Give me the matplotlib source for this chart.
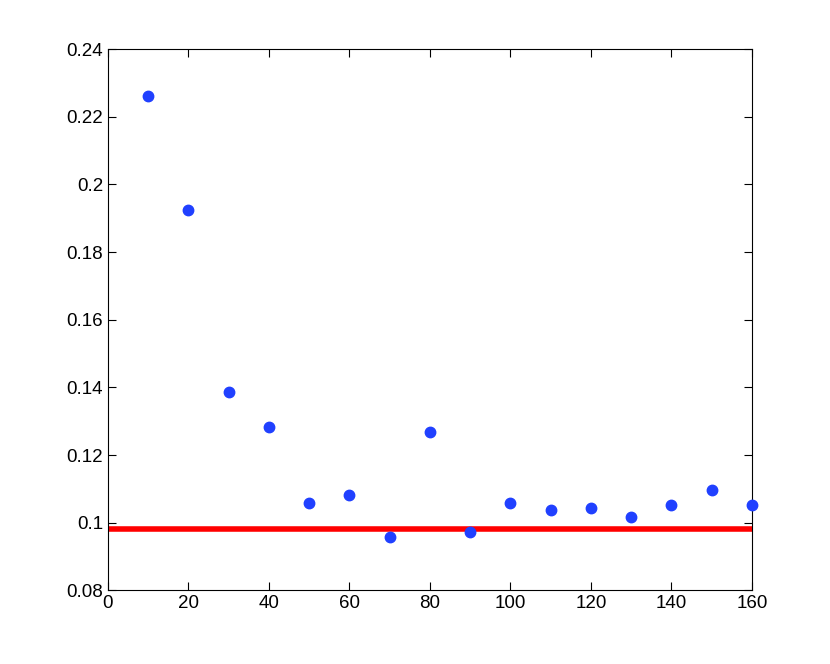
import numpy as np
import matplotlib
matplotlib.use('Agg')
import matplotlib.pyplot as plt

plt.rcParams['font.family'] = ['Liberation Sans', 'DejaVu Sans']

# data
x_vals = [10, 20, 30, 40, 50, 60, 70, 80, 90, 100, 110, 120, 130, 140, 150, 160]
y_vals = [0.2261, 0.1924, 0.1386, 0.1282, 0.1057, 0.1081, 0.0957, 0.1267,
          0.0971, 0.1057, 0.1037, 0.1042, 0.1016, 0.1051, 0.1096, 0.1051]
ref_level = 0.098

fig = plt.figure(figsize=(8.3, 6.64), dpi=100)
ax = fig.add_axes([0.13, 0.111, 0.776, 0.815])

ax.axhline(ref_level, color='#ff0000', linewidth=4, zorder=1)
ax.plot(x_vals, y_vals, 'o', color='#2040ff', markersize=7.5, zorder=3, clip_on=False)

ax.set_xlim(0, 160)
ax.set_ylim(0.08, 0.24)
ax.set_xticks(np.arange(0, 161, 20))
ax.set_yticks(np.arange(0.08, 0.2401, 0.02))
ax.set_yticklabels(['0.08', '0.1', '0.12', '0.14', '0.16', '0.18', '0.2', '0.22', '0.24'])
ax.tick_params(direction='in', top=True, right=True, labelsize=13.5, length=6)

fig.savefig('out.png', dpi=100)
plt.close()
